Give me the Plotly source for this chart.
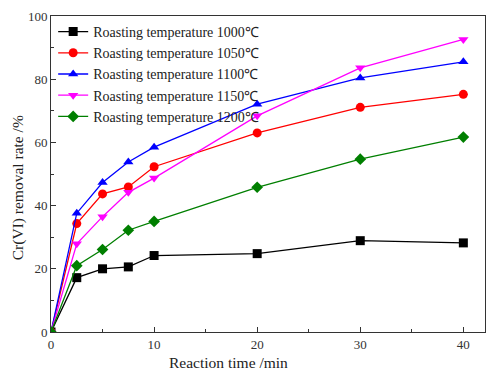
import plotly.graph_objects as go

time = [0, 2.5, 5, 7.5, 10, 20, 30, 40]
t1000 = [0, 17.2, 20.0, 20.6, 24.2, 24.8, 28.9, 28.2]
t1050 = [0, 34.3, 43.7, 45.9, 52.3, 63.0, 71.1, 75.2]
t1100 = [0, 37.6, 47.3, 53.8, 58.5, 72.1, 80.4, 85.5]
t1150 = [0, 27.9, 36.5, 44.2, 48.7, 68.4, 83.6, 92.6]
t1200 = [0, 21.0, 26.1, 32.2, 35.0, 45.8, 54.7, 61.7]

series = [
    ("Roasting temperature 1000℃", t1000, "#000000", "square"),
    ("Roasting temperature 1050℃", t1050, "#ff0000", "circle"),
    ("Roasting temperature 1100℃", t1100, "#0000ff", "triangle-up"),
    ("Roasting temperature 1150℃", t1150, "#ff00ff", "triangle-down"),
    ("Roasting temperature 1200℃", t1200, "#007f00", "diamond"),
]

fig = go.Figure()
for name, ys, col, sym in series:
    fig.add_trace(go.Scatter(
        x=time, y=ys, name=name, mode="lines+markers",
        line=dict(color=col, width=1.3),
        marker=dict(color=col, symbol=sym, size=9),
    ))

axis_common = dict(
    showline=True, linecolor="#333", linewidth=1, mirror=True,
    ticks="inside", ticklen=5, tickcolor="#333", showgrid=False, zeroline=False,
    tickfont=dict(family="Liberation Serif", size=13, color="#333"),
)
fig.update_xaxes(range=[0, 42.1], dtick=10, tick0=0,
                 minor=dict(ticks="inside", dtick=5, ticklen=3, tickcolor="#333"),
                 **axis_common)
fig.update_yaxes(range=[0, 100], dtick=20, tick0=0,
                 minor=dict(ticks="inside", dtick=10, ticklen=3, tickcolor="#333"),
                 **axis_common)

title_font = dict(family="Liberation Serif", size=15.5, color="#222")
fig.add_annotation(text="Reaction time /min", xref="paper", yref="paper",
                   x=0.408, y=0, yshift=-30, xanchor="center", yanchor="middle",
                   showarrow=False, font=title_font)
fig.add_annotation(text="Cr(VI) removal rate /%", xref="paper", yref="paper",
                   x=0, xshift=-33, y=0.455, xanchor="center", yanchor="middle",
                   textangle=-90, showarrow=False, font=title_font)

fig.update_layout(
    width=490, height=370,
    margin=dict(l=51, r=5, t=16, b=38),
    plot_bgcolor="white", paper_bgcolor="white",
    legend=dict(x=0.005, y=1.0, xanchor="left", yanchor="top",
                font=dict(family="Liberation Serif", size=14, color="#222"),
                bgcolor="rgba(0,0,0,0)", tracegroupgap=0, itemwidth=30),
    showlegend=True,
)

fig.write_html("out.html")
